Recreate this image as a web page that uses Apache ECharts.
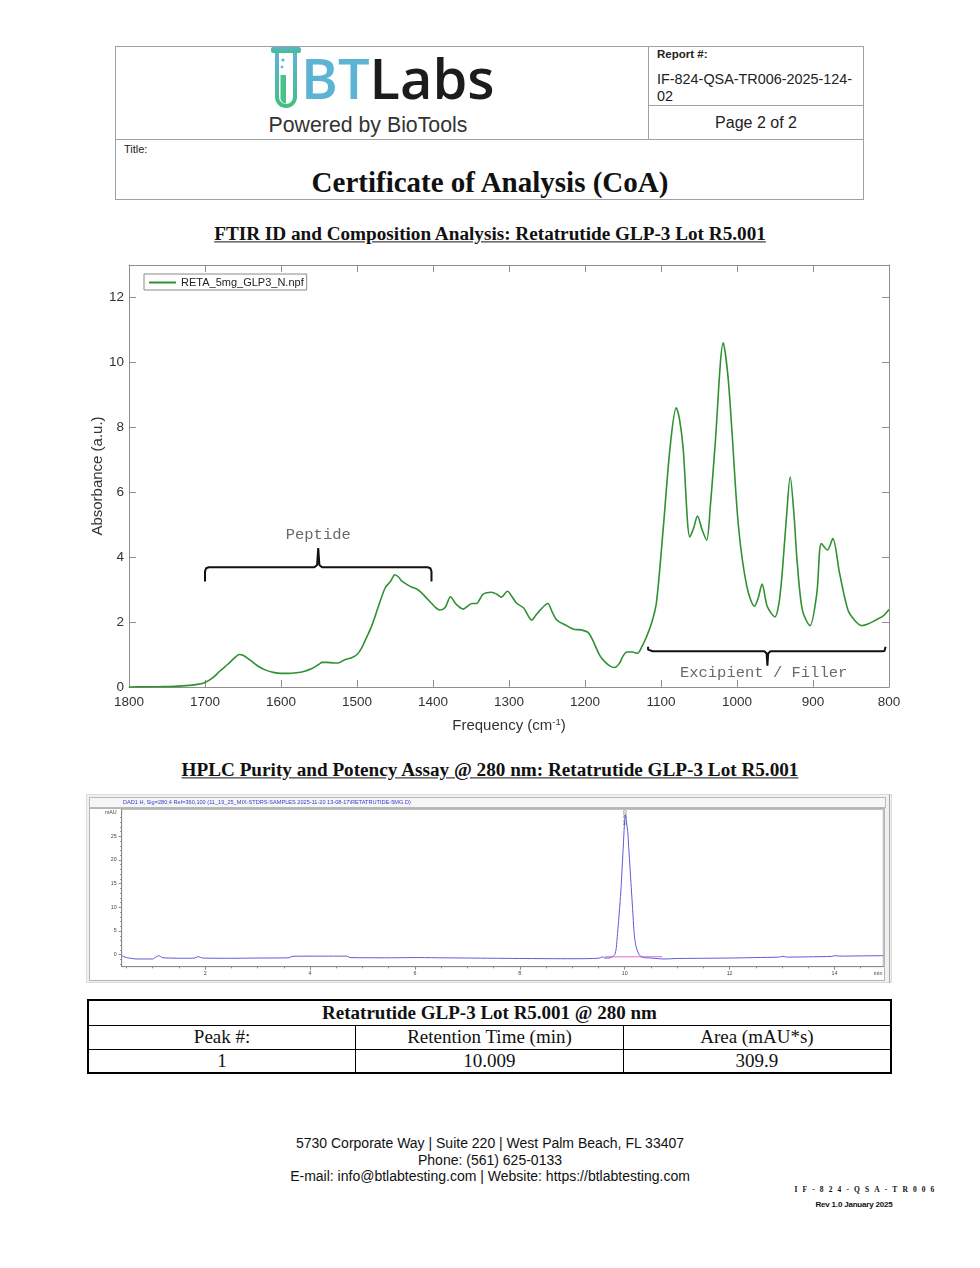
<!DOCTYPE html>
<html><head><meta charset="utf-8">
<script src="https://cdn.jsdelivr.net/npm/echarts@6/dist/echarts.min.js"></script>
<style>
body{margin:0;background:#fff;}
#page{position:relative;width:980px;height:1268px;overflow:hidden;background:#fff;font-family:'Liberation Sans',Arial,sans-serif;color:#222;}
.a{position:absolute;}
.t{position:absolute;white-space:nowrap;line-height:1;}
.c{transform:translate(-50%,-50%);}
.l{transform:translate(0,-50%);}
.serif{font-family:'Liberation Serif','Times New Roman',serif;}
.hl{background:#a0a0a0;position:absolute;}
table.res{position:absolute;left:87px;top:999px;width:805px;border-collapse:collapse;table-layout:fixed;font-family:'Liberation Serif','Times New Roman',serif;font-size:19px;color:#111;border:2.5px solid #000;}
table.res td{border:1.5px solid #000;text-align:center;padding:0;line-height:20px;}
</style>
</head><body><div id="page">

<!-- header box -->
<div class="a" style="left:115px;top:46px;width:749px;height:154px;border:1px solid #a0a0a0;box-sizing:border-box;"></div>
<div class="hl" style="left:648px;top:46px;width:1px;height:93px;"></div>
<div class="hl" style="left:115px;top:139px;width:749px;height:1px;"></div>
<div class="hl" style="left:648px;top:105px;width:216px;height:1px;"></div>

<svg class="a" style="left:268px;top:45px;" width="36" height="68" viewBox="0 0 36 68">
<defs><linearGradient id="tg" x1="0" y1="0" x2="0" y2="1"><stop offset="0" stop-color="#5cb3d9"/><stop offset="1" stop-color="#45bf80"/></linearGradient></defs>
<rect x="3" y="2" width="30" height="6" rx="2" fill="url(#tg)"/>
<path d="M9 8 V52 a9 9 0 0 0 18 0 V8" fill="none" stroke="url(#tg)" stroke-width="4"/>
<path d="M12.5 30 V53 a5.5 5.5 0 0 0 5.5 5.5 V30 Z" fill="#4ec08a"/>
<circle cx="15" cy="15" r="1.6" fill="#5cb3d9"/>
<circle cx="14" cy="22" r="1.3" fill="#58b8c0"/>
</svg>
<div class="t l" style="left:301px;top:77px;font-family:'Open Sans',sans-serif;font-weight:600;font-size:56px;letter-spacing:0px;"><span style="color:#5cb3d4">BT</span><span style="color:#1c1c1c">Labs</span></div>
<div class="t c" style="left:368px;top:126px;font-size:21.3px;color:#333;">Powered by BioTools</div>
<div class="t l" style="left:657px;top:55px;font-size:11.5px;font-weight:bold;color:#222;">Report #:</div>
<div class="t l" style="left:657px;top:79px;font-size:14.4px;color:#222;">IF-824-QSA-TR006-2025-124-</div>
<div class="t l" style="left:657px;top:96px;font-size:14.4px;color:#222;">02</div>
<div class="t c" style="left:756px;top:123px;font-size:16px;color:#222;">Page 2 of 2</div>
<div class="t l" style="left:124px;top:149px;font-size:11px;color:#222;">Title:</div>
<div class="t c serif" style="left:490px;top:182px;font-size:29px;font-weight:bold;color:#111;">Certificate of Analysis (CoA)</div>

<div class="t c serif" style="left:490px;top:234px;font-size:19.2px;font-weight:bold;text-decoration:underline;color:#111;">FTIR ID and Composition Analysis: Retatrutide GLP-3 Lot R5.001</div>

<div id="ftir" class="a" style="left:80px;top:255px;width:830px;height:490px;"></div>

<div class="t c serif" style="left:490px;top:770px;font-size:19.2px;font-weight:bold;text-decoration:underline;color:#111;">HPLC Purity and Potency Assay @ 280 nm: Retatrutide GLP-3 Lot R5.001</div>

<!-- HPLC panel frame -->
<div class="a" style="left:86px;top:794px;width:806px;height:189px;background:#f1f1f1;border:1px solid #dcdcdc;box-sizing:border-box;"></div>
<div class="a" style="left:89px;top:797px;width:797px;height:11px;background:#f6f6f6;border:1px solid #b9b9b9;box-sizing:border-box;"></div>
<div class="a" style="left:89px;top:808px;width:796px;height:173px;background:#fff;border:1px solid #b5b5b5;box-sizing:border-box;"></div>
<div class="a" style="left:889px;top:794px;width:1px;height:189px;background:#a8a8a8;"></div>
<div id="hplc" class="a" style="left:86px;top:794px;width:806px;height:189px;"></div>

<table class="res">
<tr style="height:25px;"><td colspan="3" style="font-weight:bold;">Retatrutide GLP-3 Lot R5.001 @ 280 nm</td></tr>
<tr style="height:24px;"><td>Peak #:</td><td>Retention Time (min)</td><td>Area (mAU*s)</td></tr>
<tr style="height:24px;"><td>1</td><td>10.009</td><td>309.9</td></tr>
</table>

<div class="t c" style="left:490px;top:1143px;font-size:14px;color:#111;">5730 Corporate Way | Suite 220 | West Palm Beach, FL 33407</div>
<div class="t c" style="left:490px;top:1160px;font-size:14px;color:#111;">Phone: (561) 625-0133</div>
<div class="t c" style="left:490px;top:1176px;font-size:14px;color:#111;">E-mail: info@btlabtesting.com | Website: https://btlabtesting.com</div>
<div class="t c serif" style="left:867px;top:1190px;font-size:7.5px;font-weight:bold;letter-spacing:5.1px;color:#111;">IF-824-QSA-TR006</div>
<div class="t c" style="left:854px;top:1205px;font-size:8px;font-weight:bold;color:#111;letter-spacing:-0.2px;">Rev 1.0 January 2025</div>

</div>
<script>
// ---------- FTIR data ----------
const ftirFreq = [1800,1780,1760,1740,1720,1710,1700,1690,1680,1670,1660,1655,1650,1640,1630,1620,1610,1600,1590,1580,1570,1560,1550,1546,1540,1530,1525,1516,1507,1500,1494,1488,1481,1472,1463,1456,1450,1445,1441,1430,1419,1406,1398,1391,1384,1377,1370,1360,1354,1349,1343,1334,1323,1316,1310,1302,1296,1290,1281,1270,1265,1259,1249,1243,1237,1225,1215,1205,1196,1190,1185,1180,1174,1168,1161,1155,1150,1145,1138,1131,1125,1119,1112,1106,1097,1088,1080,1076,1071,1062,1057,1052,1046,1040,1035,1029,1018,1012,1007,998,987,977,972,967,960,950,945,941,935,930,925,921,914,904,895,889,881,874,865,854,845,836,826,816,808,800];
const ftirAbs = [0,0.005,0.01,0.02,0.05,0.08,0.14,0.28,0.50,0.70,0.92,1.00,0.98,0.82,0.64,0.52,0.45,0.42,0.42,0.44,0.48,0.56,0.70,0.76,0.76,0.74,0.74,0.84,0.90,1.00,1.20,1.50,1.86,2.47,3.05,3.25,3.46,3.38,3.26,3.10,2.98,2.68,2.48,2.37,2.45,2.78,2.56,2.40,2.50,2.57,2.57,2.86,2.92,2.86,2.77,2.95,2.78,2.58,2.44,2.06,2.20,2.37,2.57,2.30,2.06,1.90,1.78,1.76,1.68,1.45,1.19,0.95,0.78,0.66,0.60,0.72,0.95,1.08,1.08,1.04,1.25,1.55,2.00,2.60,4.90,7.39,8.60,8.30,7.39,4.62,4.90,5.27,4.85,4.52,5.60,7.39,10.60,9.60,8.01,4.93,3.09,2.49,2.75,3.17,2.47,2.16,2.55,3.39,5.20,6.47,5.30,3.91,2.37,1.89,2.88,4.42,4.22,4.57,3.50,2.37,2.05,1.89,1.96,2.08,2.18,2.39];
const ftirSeriesName = 'RETA_5mg_GLP3_N.npf';
// annotation brackets (data coordinates: cm-1, a.u.)
const peptideBracket = [[1700,3.25],[1700,3.56],[1698.5,3.66],[1695,3.69],[1556,3.69],[1552.5,3.76],[1551,4.28],[1549.5,3.76],[1546,3.69],[1407,3.69],[1403.5,3.66],[1402,3.56],[1402,3.25]];
const excipientBracket = [[1117,1.24],[1117,1.15],[1115,1.11],[1111,1.10],[964,1.10],[961,1.03],[960,0.66],[959,1.03],[956,1.10],[810,1.10],[806,1.11],[804.5,1.15],[804.5,1.24]];
const ftirLabels = [{name:'Peptide', value:[1551,4.68]},{name:'Excipient / Filler', value:[965,0.44]}];

// ---------- HPLC data ----------
const hplcTime = [0.41,0.5,0.7,1.0,1.06,1.12,1.18,1.3,1.6,1.8,1.87,1.95,2.5,3.0,3.6,3.66,4.0,4.7,4.76,5.5,6.0,6.5,7.0,7.5,8.0,9.0,9.5,9.58,9.62,9.7,9.76,9.8,9.82,9.84,9.863,9.89,9.914,9.935,9.952,9.97,9.985,10.0,10.01,10.02,10.04,10.06,10.08,10.10,10.12,10.14,10.16,10.18,10.21,10.24,10.27,10.30,10.36,10.5,10.75,11.0,11.5,12.0,12.5,12.95,13.0,13.1,13.5,13.95,14.0,14.1,14.5,14.93];
const hplcSignal = [-0.2,-0.6,-0.9,-0.9,-0.5,-0.2,-0.6,-0.7,-0.75,-0.7,-0.4,-0.7,-0.75,-0.7,-0.65,-0.35,-0.3,-0.3,-0.6,-0.65,-0.6,-0.65,-0.7,-0.75,-0.8,-0.85,-0.75,-0.45,-0.7,-0.7,-0.45,-0.1,0.3,1.5,4.5,8,11.5,15,18.6,22.2,25.6,28.5,29.6,29.2,27.5,25.6,22,18.6,15,11.5,8,4.5,2.0,0.9,0.1,-0.3,-0.6,-0.7,-0.9,-0.8,-0.75,-0.7,-0.6,-0.5,-0.35,-0.5,-0.45,-0.35,-0.2,-0.3,-0.25,-0.2];
const hplcIntegration = [[9.62,-0.45],[10.72,-0.42]];
const hplcPeak = {rt:10.009, label:'10.009', labelY:28.9};
const hplcXLabels = [2,4,6,8,10,12,14];
const hplcYLabels = [0,5,10,15,20,25];
const hplcTitle = 'DAD1 H, Sig=280,4 Ref=360,100 (11_19_25_MIX-STDRS-SAMPLES 2025-11-20 13-08-17\\RETATRUTIDE-5MG.D)';

// ---------- FTIR chart ----------
const ftir = echarts.init(document.getElementById('ftir'), null, {renderer:'canvas'});
const gray = '#8f8f8f';
const baseX = {type:'value', min:800, max:1800, inverse:true, interval:100,
  axisLine:{onZero:false, lineStyle:{color:gray, width:1}},
  axisTick:{inside:true, length:7, lineStyle:{color:gray}},
  splitLine:{show:false}};
const baseY = {type:'value', min:0, max:13, interval:2,
  axisLine:{show:true, onZero:false, lineStyle:{color:gray, width:1}},
  axisTick:{show:true, inside:true, length:7, lineStyle:{color:gray}},
  splitLine:{show:false}};
ftir.setOption({
  animation:false,
  textStyle:{fontFamily:"'Liberation Sans', Arial, sans-serif"},
  grid:{left:49, right:21, top:10, bottom:58, outerBoundsMode:'none', containLabel:false},
  legend:{data:[ftirSeriesName], left:64, top:19, orient:'vertical', icon:'rect',
    backgroundColor:'#fff', borderColor:'#8a8a8a', borderWidth:1, borderRadius:0,
    padding:[3,3,2,5], itemWidth:27, itemHeight:2, itemGap:0,
    textStyle:{fontSize:11, color:'#222'}},
  xAxis:[
    Object.assign({}, baseX, {position:'bottom',
      axisLabel:{color:'#333', fontSize:13.5, margin:8, formatter:v=>String(v)},
      name:'Frequency (cm{sup|-1})', nameLocation:'middle', nameGap:30, nameMoveOverlap:false,
      nameTextStyle:{color:'#333', fontSize:15, rich:{sup:{fontSize:9.5, color:'#333', padding:[0,0,8,0]}}}}),
    Object.assign({}, baseX, {position:'top', axisLabel:{show:false}})
  ],
  yAxis:[
    Object.assign({}, baseY, {position:'left',
      axisLabel:{color:'#333', fontSize:13.5, margin:5, showMaxLabel:false, formatter:v=>String(v)},
      name:'Absorbance (a.u.)', nameLocation:'middle', nameGap:24, nameMoveOverlap:false,
      nameTextStyle:{color:'#333', fontSize:15}}),
    Object.assign({}, baseY, {position:'right', axisLabel:{show:false}})
  ],
  series:[
    {name:ftirSeriesName, type:'line', data:ftirFreq.map((f,i)=>[f, ftirAbs[i]]),
      symbol:'none', smooth:0.3, lineStyle:{color:'#2f9132', width:1.6}, itemStyle:{color:'#2f9132'}, z:3},
    {name:'peptideBracket', type:'line', data:peptideBracket, symbol:'none', silent:true,
      lineStyle:{color:'#111', width:2}, z:4},
    {name:'excipientBracket', type:'line', data:excipientBracket, symbol:'none', silent:true,
      lineStyle:{color:'#111', width:2}, z:4},
    {name:'regions', type:'scatter', data:ftirLabels, symbolSize:0.1, silent:true,
      label:{show:true, position:'inside', formatter:'{b}', color:'#444', fontSize:15.5,
        fontFamily:"'Liberation Mono', 'Courier New', monospace"}, z:5}
  ]
});

// ---------- HPLC chart ----------
const hplc = echarts.init(document.getElementById('hplc'), null, {renderer:'canvas'});
const hx = {min:0.41, max:14.93}, hy = {min:-2.53, max:30.7};
const minorX = []; for (let v = 0.5; v < 14.93; v += 0.5) { if (v % 2 !== 0) minorX.push(v); }
const minorY = []; for (let v = -2; v <= 30; v += 1) { if (v % 5 !== 0) minorY.push(v); }
const axGray = '#8a8a8a';
hplc.setOption({
  animation:false,
  textStyle:{fontFamily:"'Liberation Sans', Arial, sans-serif"},
  title:{text:hplcTitle, left:37, top:5.3, padding:0,
    textStyle:{fontSize:5.6, color:'#3a3ad0', fontWeight:'normal'}},
  grid:{left:35.7, right:8.7, top:15.3, bottom:16.3, outerBoundsMode:'none', containLabel:false,
    show:true, borderColor:'#b0b0b0', borderWidth:1, backgroundColor:'transparent'},
  xAxis:[
    {type:'value', min:hx.min, max:hx.max, position:'bottom',
      axisLine:{onZero:false, lineStyle:{color:axGray}},
      axisTick:{customValues:hplcXLabels, length:3, lineStyle:{color:axGray}},
      axisLabel:{customValues:hplcXLabels.concat([14.83]), formatter:v=> v>14.5 ? 'min' : String(v),
        fontSize:5.3, color:'#444', margin:4},
      splitLine:{show:false}},
    {type:'value', min:hx.min, max:hx.max, position:'bottom',
      axisLine:{show:false, onZero:false},
      axisTick:{customValues:minorX, length:1.6, lineStyle:{color:axGray}},
      axisLabel:{show:false}, splitLine:{show:false}}
  ],
  yAxis:[
    {type:'value', min:hy.min, max:hy.max, position:'left',
      axisLine:{show:true, onZero:false, lineStyle:{color:axGray}},
      axisTick:{show:true, customValues:hplcYLabels, length:3, lineStyle:{color:axGray}},
      axisLabel:{customValues:hplcYLabels.concat([29.96]), formatter:v=> v>28 ? 'mAU' : String(v),
        fontSize:5.3, color:'#444', margin:5},
      splitLine:{show:false}},
    {type:'value', min:hy.min, max:hy.max, position:'left',
      axisLine:{show:false, onZero:false},
      axisTick:{show:true, customValues:minorY, length:1.6, lineStyle:{color:axGray}},
      axisLabel:{show:false}, splitLine:{show:false}}
  ],
  series:[
    {name:'baseline', type:'line', data:hplcIntegration, symbol:'none', silent:true,
      lineStyle:{color:'#e046c8', width:0.8}, z:2},
    {name:'DAD1 H', type:'line', data:hplcTime.map((t,i)=>[t, hplcSignal[i]]), symbol:'none',
      smooth:0.25, lineStyle:{color:'#5b5bd8', width:1}, z:3},
    {name:'peakLabel', type:'scatter', data:[[hplcPeak.rt, hplcPeak.labelY]], symbolSize:0.1, silent:true,
      label:{show:true, position:'inside', formatter:()=>hplcPeak.label, rotate:90, fontSize:5, color:'#555'}, z:4}
  ]
});
</script>
</body></html>
